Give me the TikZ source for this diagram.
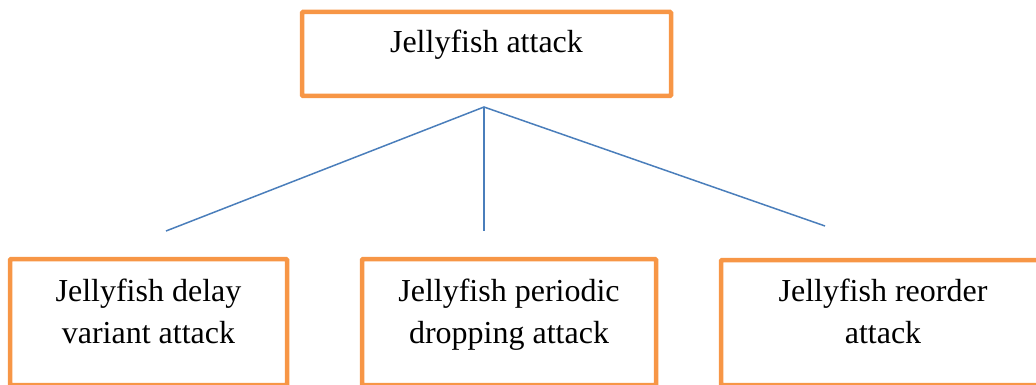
\documentclass[tikz,border=0pt]{standalone}
\usepackage{fontspec}
\setmainfont{Liberation Serif}
\definecolor{boxorange}{HTML}{F79646}
\definecolor{linkblue}{HTML}{4A7EBB}
\begin{document}
\begin{tikzpicture}[x=1pt,y=-1pt,
  frame/.style={draw=boxorange, line width=4.5pt, rounded corners=1pt},
  label/.style={font=\fontsize{32}{41.5}\selectfont, align=center, anchor=base, inner sep=0pt},
  link/.style={draw=linkblue, line width=1.5pt}]
  \useasboundingbox (0,0) rectangle (1036,385);
  \begin{scope}
    \clip (0,0) rectangle (1036,385);
    % boxes
    \draw[frame] (302,12) rectangle (671,96);
    \draw[frame] (10,259) rectangle (287,385);
    \draw[frame] (362,259) rectangle (656,385);
    \draw[frame] (721,260) rectangle (1045,385);
    % captions (base anchor sits on the last line of a two-line label)
    \node[label] (root) at (486.5,53) {Jellyfish attack};
    \node[label] (delay) at (148.5,343) {Jellyfish delay\\variant attack};
    \node[label] (drop) at (509,343) {Jellyfish periodic\\dropping attack};
    \node[label] (reorder) at (883,343) {Jellyfish reorder\\attack};
    % branches
    \coordinate (apex) at (484,107);
    \coordinate (endL) at (166,231);
    \coordinate (endM) at (484,231);
    \coordinate (endR) at (825,226);
    \draw[link] (endL) -- (apex) -- (endR);
    \draw[link] (apex) -- (endM);
  \end{scope}
\end{tikzpicture}
\end{document}
